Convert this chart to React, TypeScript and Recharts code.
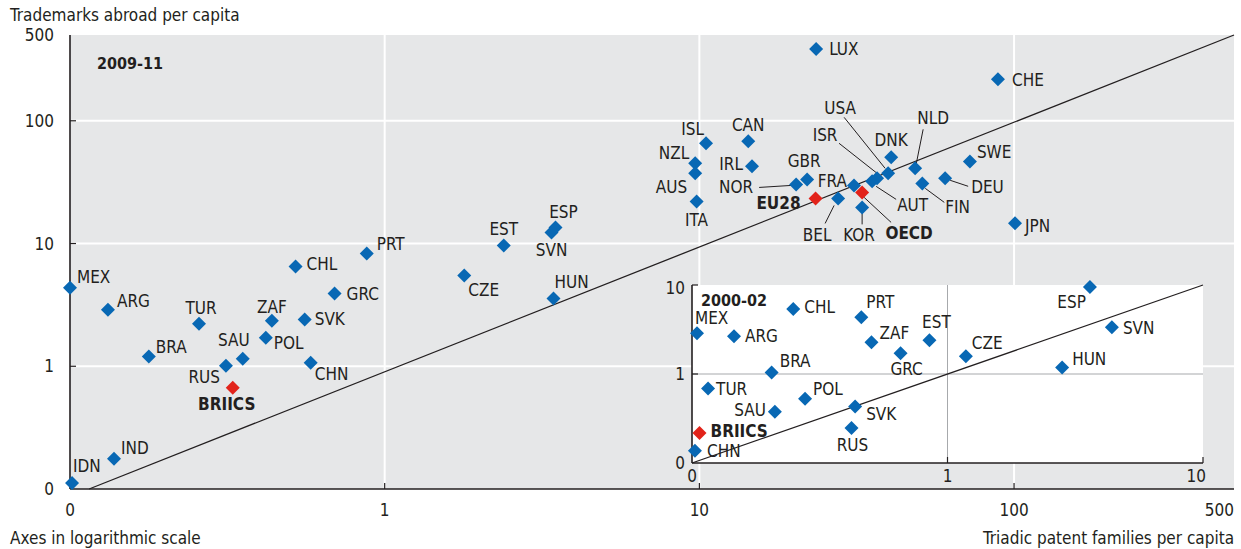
import React from 'react';
import { ScatterChart, Scatter, XAxis, YAxis, ReferenceLine, CartesianGrid } from 'recharts';

const FONT = "'Liberation Sans Narrow', 'DejaVu Sans Condensed', 'Arial Narrow', sans-serif";
const TEXT = '#231f20';
const BLUE = '#0868b4';
const RED = '#e2231a';
const BG = '#e6e7e8';
const FS = 17;

// ---- Main panel: 2009-11 ----
const mainCodes = ['LUX', 'CHE', 'ISL', 'CAN', 'NZL', 'AUS', 'IRL', 'ITA', 'NOR', 'GBR', 'BEL', 'FRA', 'KOR', 'AUT', 'ISR', 'USA', 'DNK', 'NLD', 'FIN', 'DEU', 'SWE', 'JPN', 'EST', 'ESP', 'SVN', 'CZE', 'HUN', 'PRT', 'CHL', 'GRC', 'MEX', 'ARG', 'TUR', 'ZAF', 'SVK', 'SAU', 'POL', 'BRA', 'RUS', 'CHN', 'IND', 'IDN'];
const mainPatents = [23.5, 88.9, 10.5, 14.3, 9.7, 9.7, 14.7, 9.8, 20.3, 22.0, 27.6, 31.0, 32.9, 35.4, 36.7, 39.8, 40.7, 48.5, 51.1, 60.4, 72.4, 100.7, 2.39, 3.49, 3.39, 1.79, 3.44, 0.877, 0.521, 0.693, 0.1, 0.132, 0.257, 0.438, 0.557, 0.354, 0.419, 0.178, 0.313, 0.582, 0.138, 0.1015];
const mainTrademarks = [384, 218, 65.5, 68, 45, 37.3, 42.6, 22.0, 30.3, 33.3, 23.3, 29.7, 19.7, 32.1, 34.0, 37.3, 50.4, 41.0, 30.9, 34.0, 46.7, 14.6, 9.63, 13.5, 12.3, 5.48, 3.56, 8.28, 6.49, 3.91, 4.37, 2.89, 2.22, 2.35, 2.40, 1.15, 1.71, 1.20, 1.01, 1.07, 0.176, 0.112];
const mainAggCodes = ['EU28', 'OECD', 'BRIICS'];
const mainAggPatents = [23.4, 32.9, 0.329];
const mainAggTrademarks = [23.3, 26.1, 0.667];

// ---- Inset panel: 2000-02 ----
const insetCodes = ['CHL', 'PRT', 'MEX', 'ARG', 'ZAF', 'EST', 'GRC', 'CZE', 'BRA', 'HUN', 'ESP', 'SVN', 'TUR', 'POL', 'SAU', 'SVK', 'RUS', 'CHN'];
const insetPatents = [0.249, 0.46, 0.1046, 0.146, 0.504, 0.85, 0.655, 1.18, 0.205, 2.81, 3.61, 4.4, 0.1156, 0.277, 0.211, 0.435, 0.421, 0.1027];
const insetTrademarks = [5.36, 4.35, 2.87, 2.65, 2.27, 2.39, 1.71, 1.58, 1.04, 1.18, 9.5, 3.35, 0.686, 0.528, 0.377, 0.43, 0.248, 0.137];
const insetAggCodes = ['BRIICS'];
const insetAggPatents = [0.107];
const insetAggTrademarks = [0.218];

const mainTicks = [0.1, 1, 10, 100, 500];
const mainTickLabels = ['0', '1', '10', '100', '500'];
const mainGrid = [1, 10, 100];
const insetTicks = [0.1, 1, 10];
const insetTickLabels = ['0', '1', '10'];
const insetGrid = [1];

type Anchor = 'start' | 'middle' | 'end';
type Place = { dx: number; dy: number; a: Anchor; lead?: [number, number, number, number] };

const mainPlace: Record<string, Place> = {
  LUX: { dx: 13, dy: 0, a: 'start' },
  CHE: { dx: 14, dy: 1, a: 'start' },
  ISL: { dx: -2, dy: -14, a: 'end' },
  CAN: { dx: 0, dy: -16, a: 'middle' },
  NZL: { dx: -6, dy: -10, a: 'end' },
  AUS: { dx: -8, dy: 14, a: 'end' },
  ITA: { dx: 0, dy: 19, a: 'middle' },
  IRL: { dx: -9, dy: -2, a: 'end' },
  NOR: { dx: -43, dy: 3, a: 'end', lead: [-37, 3, -5, 1] },
  GBR: { dx: -3, dy: -18, a: 'middle' },
  EU28: { dx: -15, dy: 5, a: 'end' },
  FRA: { dx: -7, dy: -5, a: 'end' },
  BEL: { dx: -21, dy: 37, a: 'middle', lead: [-4, 7, -13, 25] },
  KOR: { dx: -3, dy: 28, a: 'middle', lead: [0, 6, 0, 17] },
  OECD: { dx: 47, dy: 41, a: 'middle', lead: [2, 5, 29, 30] },
  AUT: { dx: 25, dy: 24, a: 'start', lead: [4, 5, 24, 18] },
  ISR: { dx: -52, dy: -43, a: 'middle', lead: [-38, -35, 0, -5] },
  USA: { dx: -48, dy: -65, a: 'middle', lead: [-44, -56, -3, -5] },
  DNK: { dx: 0, dy: -17, a: 'middle' },
  NLD: { dx: 18, dy: -50, a: 'middle', lead: [8, -39, 1, -4] },
  FIN: { dx: 23, dy: 24, a: 'start', lead: [3, 5, 22, 19] },
  DEU: { dx: 26, dy: 9, a: 'start', lead: [5, 2, 23, 8] },
  SWE: { dx: 7, dy: -9, a: 'start' },
  JPN: { dx: 10, dy: 3, a: 'start' },
  ESP: { dx: 8, dy: -16, a: 'middle' },
  SVN: { dx: 0, dy: 18, a: 'middle' },
  EST: { dx: 0, dy: -17, a: 'middle' },
  CZE: { dx: 4, dy: 14, a: 'start' },
  HUN: { dx: 1, dy: -17, a: 'start' },
  PRT: { dx: 10, dy: -10, a: 'start' },
  CHL: { dx: 11, dy: -3, a: 'start' },
  GRC: { dx: 12, dy: 0, a: 'start' },
  MEX: { dx: 7, dy: -11, a: 'start' },
  ARG: { dx: 9, dy: -9, a: 'start' },
  TUR: { dx: 2, dy: -16, a: 'middle' },
  ZAF: { dx: 0, dy: -14, a: 'middle' },
  SVK: { dx: 10, dy: -1, a: 'start' },
  SAU: { dx: -9, dy: -19, a: 'middle' },
  POL: { dx: 8, dy: 5, a: 'start' },
  BRA: { dx: 7, dy: -10, a: 'start' },
  RUS: { dx: -6, dy: 11, a: 'end' },
  BRIICS: { dx: -6, dy: 16, a: 'middle' },
  CHN: { dx: 4, dy: 11, a: 'start' },
  IND: { dx: 7, dy: -11, a: 'start' },
  IDN: { dx: 1, dy: -17, a: 'start' },
};

const insetPlace: Record<string, Place> = {
  CHL: { dx: 11, dy: -2, a: 'start' },
  PRT: { dx: 5, dy: -15, a: 'start' },
  MEX: { dx: -2, dy: -15, a: 'start' },
  ARG: { dx: 11, dy: 0, a: 'start' },
  ZAF: { dx: 8, dy: -9, a: 'start' },
  EST: { dx: 7, dy: -18, a: 'middle' },
  GRC: { dx: 6, dy: 16, a: 'middle' },
  CZE: { dx: 6, dy: -13, a: 'start' },
  BRA: { dx: 8, dy: -11, a: 'start' },
  HUN: { dx: 10, dy: -9, a: 'start' },
  ESP: { dx: -4, dy: 15, a: 'end' },
  SVN: { dx: 11, dy: 1, a: 'start' },
  TUR: { dx: 8, dy: 0, a: 'start' },
  POL: { dx: 8, dy: -10, a: 'start' },
  SAU: { dx: -9, dy: -2, a: 'end' },
  SVK: { dx: 11, dy: 7, a: 'start' },
  RUS: { dx: 1, dy: 17, a: 'middle' },
  BRIICS: { dx: 11, dy: -2, a: 'start' },
  CHN: { dx: 12, dy: 0, a: 'start' },
};

const toRows = (codes: string[], xs: number[], ys: number[]) =>
  codes.map((code, i) => ({ code, x: xs[i], y: ys[i] }));

const mainData = toRows(mainCodes, mainPatents, mainTrademarks);
const mainAggData = toRows(mainAggCodes, mainAggPatents, mainAggTrademarks);
const insetData = toRows(insetCodes, insetPatents, insetTrademarks);
const insetAggData = toRows(insetAggCodes, insetAggPatents, insetAggTrademarks);

const makeShape = (places: Record<string, Place>, color: string, bold: boolean) => (props: any) => {
  const { cx, cy, payload } = props;
  if (cx == null || cy == null) return <g />;
  const p = places[payload.code] || { dx: 10, dy: 0, a: 'start' as Anchor };
  const r = 7;
  return (
    <g>
      {p.lead && (
        <line x1={cx + p.lead[0]} y1={cy + p.lead[1]} x2={cx + p.lead[2]} y2={cy + p.lead[3]} stroke={TEXT} strokeWidth={1} />
      )}
      <path d={`M${cx},${cy - r}L${cx + r},${cy}L${cx},${cy + r}L${cx - r},${cy}Z`} fill={color} />
      <text
        x={cx + p.dx}
        y={cy + p.dy}
        textAnchor={p.a}
        dominantBaseline="central"
        fontFamily={FONT}
        fontSize={FS}
        fontWeight={bold ? 'bold' : 'normal'}
        fill={TEXT}
      >
        {payload.code}
      </text>
    </g>
  );
};

const labelOf = (ticks: number[], labels: string[], v: number) => {
  const i = ticks.indexOf(v);
  return i >= 0 ? labels[i] : String(v);
};

const MainYTick = (props: any) => {
  const { x, y, payload } = props;
  const v = payload.value;
  return (
    <g>
      {mainGrid.includes(v) && <line x1={x} x2={x + 6} y1={y} y2={y} stroke={TEXT} strokeWidth={1.2} />}
      <text x={x - 16} y={y} textAnchor="end" dominantBaseline="central" fontFamily={FONT} fontSize={FS} fill={TEXT}>
        {labelOf(mainTicks, mainTickLabels, v)}
      </text>
    </g>
  );
};

const MainXTick = (props: any) => {
  const { x, y, payload } = props;
  const v = payload.value;
  const last = v === mainTicks[mainTicks.length - 1];
  return (
    <g>
      {mainGrid.includes(v) && <line x1={x} x2={x} y1={y - 6} y2={y} stroke={TEXT} strokeWidth={1.2} />}
      <text x={x} y={y + 21} textAnchor={last ? 'end' : 'middle'} dominantBaseline="central" fontFamily={FONT} fontSize={FS} fill={TEXT}>
        {labelOf(mainTicks, mainTickLabels, v)}
      </text>
    </g>
  );
};

const InsetYTick = (props: any) => {
  const { x, y, payload } = props;
  const v = payload.value;
  const top = v === insetTicks[insetTicks.length - 1];
  return (
    <g>
      {v !== insetTicks[0] && <line x1={x} x2={x + 6} y1={y} y2={y} stroke={TEXT} strokeWidth={1.2} />}
      <text x={x - 7} y={y + (top ? 3 : 0)} textAnchor="end" dominantBaseline="central" fontFamily={FONT} fontSize={FS} fill={TEXT}>
        {labelOf(insetTicks, insetTickLabels, v)}
      </text>
    </g>
  );
};

const InsetXTick = (props: any) => {
  const { x, y, payload } = props;
  const v = payload.value;
  const last = v === insetTicks[insetTicks.length - 1];
  return (
    <g>
      {v !== insetTicks[0] && <line x1={x} x2={x} y1={y - 6} y2={y} stroke={TEXT} strokeWidth={1.2} />}
      <text x={last ? x + 3 : x} y={y + 13} textAnchor={last ? 'end' : 'middle'} dominantBaseline="central" fontFamily={FONT} fontSize={FS} fill={TEXT}>
        {labelOf(insetTicks, insetTickLabels, v)}
      </text>
    </g>
  );
};

export default function App() {
  return (
    <div style={{ position: 'absolute', left: 0, top: 0, width: 1241, height: 549, background: '#fff', overflow: 'hidden' }}>
      <div style={{ position: 'absolute', left: 0, top: 0 }}>
        <ScatterChart width={1241} height={549} margin={{ top: 35, right: 7, bottom: 0, left: 0 }}>
          <CartesianGrid fill={BG} horizontal={false} vertical={false} stroke="none" />
          <XAxis
            type="number"
            dataKey="x"
            scale="log"
            domain={[0.1, 500]}
            ticks={mainTicks}
            interval={0}
            height={60}
            tickSize={0}
            tickMargin={0}
            tickLine={false}
            axisLine={{ stroke: TEXT, strokeWidth: 1.6 }}
            tick={<MainXTick />}
          />
          <YAxis
            type="number"
            dataKey="y"
            scale="log"
            domain={[0.1, 500]}
            ticks={mainTicks}
            interval={0}
            width={70}
            tickSize={0}
            tickMargin={0}
            tickLine={false}
            axisLine={{ stroke: TEXT, strokeWidth: 1.6 }}
            tick={<MainYTick />}
          />
          {mainGrid.map((v) => (
            <ReferenceLine key={'h' + v} y={v} stroke="#ffffff" strokeWidth={2} />
          ))}
          {mainGrid.map((v) => (
            <ReferenceLine key={'v' + v} x={v} stroke="#ffffff" strokeWidth={2} />
          ))}
          <ReferenceLine
            segment={[{ x: 0.115, y: 0.1 }, { x: 500, y: 500 }]}
            stroke={TEXT}
            strokeWidth={1.3}
          />
          <Scatter data={mainData} isAnimationActive={false} shape={makeShape(mainPlace, BLUE, false)} />
          <Scatter data={mainAggData} isAnimationActive={false} shape={makeShape(mainPlace, RED, true)} />
        </ScatterChart>
      </div>
      <div style={{ position: 'absolute', left: 640, top: 270 }}>
        <ScatterChart width={580} height={220} margin={{ top: 15, right: 17, bottom: 0, left: 0 }}>
          <CartesianGrid fill="#ffffff" horizontal={false} vertical={false} stroke="none" />
          <XAxis
            type="number"
            dataKey="x"
            scale="log"
            domain={[0.1, 10]}
            ticks={insetTicks}
            interval={0}
            height={27}
            tickSize={0}
            tickMargin={0}
            tickLine={false}
            axisLine={{ stroke: TEXT, strokeWidth: 1.6 }}
            tick={<InsetXTick />}
          />
          <YAxis
            type="number"
            dataKey="y"
            scale="log"
            domain={[0.1, 10]}
            ticks={insetTicks}
            interval={0}
            width={52}
            tickSize={0}
            tickMargin={0}
            tickLine={false}
            axisLine={{ stroke: TEXT, strokeWidth: 1.6 }}
            tick={<InsetYTick />}
          />
          {insetGrid.map((v) => (
            <ReferenceLine key={'ih' + v} y={v} stroke="#a7a9ac" strokeWidth={1} />
          ))}
          {insetGrid.map((v) => (
            <ReferenceLine key={'iv' + v} x={v} stroke="#a7a9ac" strokeWidth={1} />
          ))}
          <ReferenceLine segment={[{ x: 0.1, y: 0.1 }, { x: 10, y: 10 }]} stroke={TEXT} strokeWidth={1.3} />
          <Scatter data={insetData} isAnimationActive={false} shape={makeShape(insetPlace, BLUE, false)} />
          <Scatter data={insetAggData} isAnimationActive={false} shape={makeShape(insetPlace, RED, true)} />
        </ScatterChart>
      </div>
      <svg width={1241} height={549} style={{ position: 'absolute', left: 0, top: 0, pointerEvents: 'none' }}>
        <g fontFamily={FONT} fontSize={FS} fill={TEXT}>
          <text x={10} y={15} dominantBaseline="central">Trademarks abroad per capita</text>
          <text x={10} y={538} dominantBaseline="central">Axes in logarithmic scale</text>
          <text x={1234} y={538} textAnchor="end" dominantBaseline="central">Triadic patent families per capita</text>
          <text x={97} y={63} dominantBaseline="central" fontWeight="bold" fontSize={16}>2009-11</text>
          <text x={701} y={300} dominantBaseline="central" fontWeight="bold" fontSize={16}>2000-02</text>
        </g>
      </svg>
    </div>
  );
}
